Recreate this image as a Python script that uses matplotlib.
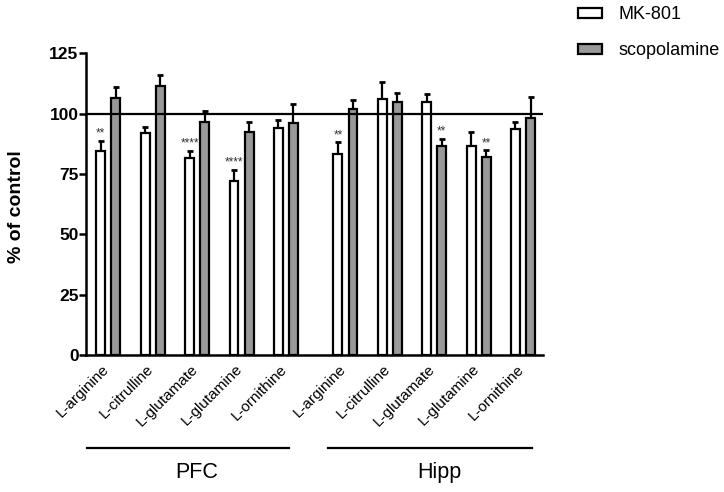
import matplotlib
matplotlib.use("Agg")
import matplotlib.pyplot as plt
from matplotlib.patches import Patch
import numpy as np

plt.rcParams['font.family'] = ['Liberation Sans', 'DejaVu Sans']

amino = ["L-arginine", "L-citrulline", "L-glutamate", "L-glutamine", "L-ornithine"]
groups = ["PFC", "Hipp"]
mk801_pfc = [84.6, 92.0, 81.7, 71.9, 93.8]
mk801_pfc_err = [4.1, 2.5, 2.7, 4.7, 3.7]
scop_pfc = [106.5, 111.5, 96.3, 92.3, 96.0]
scop_pfc_err = [4.5, 4.5, 4.7, 4.3, 7.9]
mk801_hipp = [83.3, 105.8, 104.6, 86.4, 93.7]
mk801_hipp_err = [4.7, 7.1, 3.6, 5.8, 2.6]
scop_hipp = [101.8, 104.7, 86.6, 81.8, 98.2]
scop_hipp_err = [3.9, 3.9, 2.9, 2.9, 8.6]
# significance marks: (group index, amino index, series, label)
sig_marks = [(0, 0, "mk", "**"), (0, 2, "mk", "****"), (0, 3, "mk", "****"),
             (1, 0, "mk", "**"), (1, 2, "sc", "**"), (1, 3, "sc", "**")]

fig = plt.figure(figsize=(7.24, 4.92), dpi=100)
ax = fig.add_axes([0.119, 0.2785, 0.631, 0.6135])

gap = 5.34
pos = np.array(list(range(5)) + [gap + i for i in range(5)])
off = 0.17
w = 0.2
mk = mk801_pfc + mk801_hipp
mk_err = mk801_pfc_err + mk801_hipp_err
sc = scop_pfc + scop_hipp
sc_err = scop_pfc_err + scop_hipp_err

ax.bar(pos - off, mk, w, color="white", edgecolor="black", linewidth=1.6, zorder=3)
ax.bar(pos + off, sc, w, color="#999999", edgecolor="black", linewidth=1.6, zorder=3)
ax.errorbar(pos - off, mk, yerr=[np.zeros(10), mk_err], fmt="none", ecolor="black",
            elinewidth=1.6, capsize=2.5, capthick=2, zorder=2)
ax.errorbar(pos + off, sc, yerr=[np.zeros(10), sc_err], fmt="none", ecolor="black",
            elinewidth=1.6, capsize=2.5, capthick=2, zorder=2)

for g, a, s, lab in sig_marks:
    i = g * 5 + a
    if s == "mk":
        x = pos[i] - off; top = mk[i] + mk_err[i]
    else:
        x = pos[i] + off; top = sc[i] + sc_err[i]
    ax.text(x, top + 3.0, lab, ha="center", va="center", fontsize=8.5, color="#333333")

ax.axhline(100, color="black", linewidth=1.6, zorder=4)

ax.set_xlim(-0.5, 9.79)
ax.set_ylim(0, 125)
ax.set_yticks([0, 25, 50, 75, 100, 125])
ax.set_yticklabels(["0", "25", "50", "75", "100", "125"], fontweight="bold", fontsize=12.5)
ax.set_xticks(pos - 0.14)
ax.set_xticklabels(amino + amino, rotation=45, ha="right", rotation_mode="anchor", fontsize=11)
ax.tick_params(axis="x", length=0, pad=5)
ax.tick_params(axis="y", length=5, width=1.8, direction="out", pad=0.5)
for sp in ["top", "right"]:
    ax.spines[sp].set_visible(False)
for sp in ["left", "bottom"]:
    ax.spines[sp].set_linewidth(1.8)
ax.set_ylabel("% of control", fontweight="bold", fontsize=14)
ax.yaxis.set_label_coords(-0.133, 0.49)

trans = ax.get_xaxis_transform()
for (x0, x1), name in zip([(-0.49, 4.06), (4.95, 9.54)], groups):
    ax.plot([x0, x1], [-0.307, -0.307], color="black", linewidth=1.6, transform=trans, clip_on=False)
    ax.text((x0 + x1) / 2 + 0.21, -0.39, name, ha="center", va="center", fontsize=15.5, transform=trans)

handles = [Patch(facecolor="white", edgecolor="black", linewidth=1.6, label="MK-801"),
           Patch(facecolor="#999999", edgecolor="black", linewidth=1.6, label="scopolamine")]
fig.legend(handles=handles, loc="upper left", bbox_to_anchor=(0.776, 1.02), frameon=False,
           fontsize=13, handlelength=1.35, handleheight=0.45, labelspacing=1.05, handletextpad=0.9)

fig.savefig("out.png", dpi=100)
